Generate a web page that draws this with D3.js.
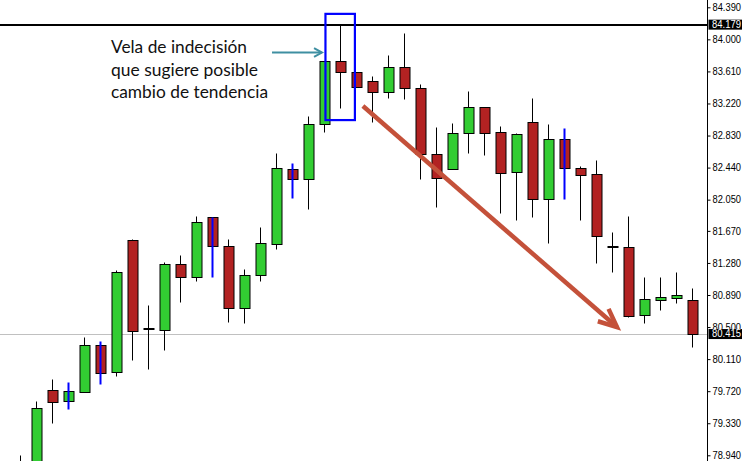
<!DOCTYPE html>
<html><head><meta charset="utf-8">
<script src="https://cdn.jsdelivr.net/npm/d3@7"></script>
<style>html,body{margin:0;padding:0;background:#fff;overflow:hidden}</style>
</head><body><svg id="c" width="742" height="461"></svg>
<script>
// ---- data ----
const candleNo = d3.range(1, 44);
const opens  = [78.85,78.75,79.731,79.606,79.715,80.279,79.959,81.557,80.474,80.470,81.265,81.103,81.837,81.492,80.726,81.139,81.505,82.418,82.296,82.965,83.732,83.598,83.489,83.355,83.659,83.404,82.600,82.418,82.856,83.172,82.868,82.381,82.990,82.052,82.783,82.430,82.360,81.468,81.468,80.652,80.835,80.859,80.827];
const highs  = [78.94,79.597,79.865,79.828,80.376,80.327,81.192,81.573,80.766,81.289,81.374,81.849,81.840,81.569,81.204,81.712,82.612,82.491,83.066,83.735,84.179,83.598,83.550,83.809,84.077,83.452,82.932,82.981,83.374,83.172,82.945,82.859,83.285,82.969,82.924,82.461,82.531,81.654,81.849,81.106,81.106,81.167,80.976];
const lows   = [78.60,78.70,79.333,79.503,79.715,79.808,79.905,80.096,79.987,80.218,80.806,81.061,81.110,80.562,80.550,81.066,81.444,82.072,81.938,82.868,83.167,83.416,82.997,83.289,83.270,82.296,81.955,82.418,82.612,82.592,81.882,81.800,81.841,81.524,82.056,81.800,81.281,81.171,80.623,80.550,80.713,80.794,80.258];
const closes = [78.70,79.520,79.593,79.719,80.279,79.946,81.164,80.458,80.474,81.265,81.110,81.776,81.492,80.726,81.139,81.517,82.430,82.296,82.965,83.732,83.598,83.416,83.355,83.659,83.404,82.600,82.308,82.856,83.172,82.863,82.369,82.844,82.052,82.783,82.430,82.344,81.609,81.468,80.640,80.839,80.863,80.887,80.415];
const blueWick = [4, 6, 13, 18, 35];
const tickLabels = ["84.390","84.000","83.610","83.220","82.830","82.440","82.050","81.670","81.280","80.890","80.500","80.110","79.720","79.330","78.940"];
const markedPrices = ["84.179", "80.415"];
const noteLines = ["Vela de indecisión", "que sugiere posible", "cambio de tendencia"];

// ---- layout ----
const W = 742, H = 461, axisX = 707.5;
const svg = d3.select("#c");
const y = d3.scaleLinear().domain([78.94, 84.39]).range([455.3, 7.3]);
const x = d3.scaleBand().domain(candleNo).range([12.5, 700.5]).paddingInner(0.375).paddingOuter(0.1875);
const xc = d => x(d) + x.bandwidth() / 2;
const xi = d3.scaleLinear().domain([1, 43]).range([xc(1), xc(43)]);
const sy = v => Math.round(y(v)) + 0.5;

const candles = candleNo.map((n, i) => ({n, o: opens[i], h: highs[i], l: lows[i], c: closes[i], blue: blueWick.includes(n)}));

svg.append("defs").append("clipPath").attr("id", "plot").append("rect").attr("x", 0).attr("y", 0).attr("width", axisX).attr("height", H);
const plot = svg.append("g").attr("clip-path", "url(#plot)");

// price lines
plot.append("line").attr("x1", 0).attr("x2", axisX).attr("y1", sy(+markedPrices[1])).attr("y2", sy(+markedPrices[1]))
  .attr("stroke", "#c0c0c0").attr("stroke-width", 1);
plot.append("line").attr("x1", 0).attr("x2", axisX).attr("y1", Math.round(y(+markedPrices[0]))).attr("y2", Math.round(y(+markedPrices[0])))
  .attr("stroke", "#000").attr("stroke-width", 2);

// wicks
plot.selectAll(".wick").data(candles.filter(d => !d.blue)).join("line")
  .attr("x1", d => xc(d.n)).attr("x2", d => xc(d.n))
  .attr("y1", d => sy(d.h)).attr("y2", d => sy(d.l))
  .attr("stroke", "#000").attr("stroke-width", 1);

// bodies
plot.selectAll(".body").data(candles.filter(d => d.o !== d.c)).join("rect")
  .attr("x", d => x(d.n) + 0.5).attr("width", x.bandwidth())
  .attr("y", d => sy(Math.max(d.o, d.c)))
  .attr("height", d => Math.max(1, sy(Math.min(d.o, d.c)) - sy(Math.max(d.o, d.c))))
  .attr("fill", d => d.c > d.o ? "#32cd32" : "#b22222")
  .attr("stroke", "#000").attr("stroke-width", 1);

// doji bars
plot.selectAll(".doji").data(candles.filter(d => d.o === d.c)).join("line")
  .attr("x1", d => x(d.n)).attr("x2", d => x(d.n) + x.bandwidth() + 1)
  .attr("y1", d => Math.round(y(d.o))).attr("y2", d => Math.round(y(d.o)))
  .attr("stroke", "#000").attr("stroke-width", 2);

// blue wicks (on top)
plot.selectAll(".bw").data(candles.filter(d => d.blue)).join("line")
  .attr("x1", d => xc(d.n)).attr("x2", d => xc(d.n))
  .attr("y1", d => sy(d.h)).attr("y2", d => sy(d.l))
  .attr("stroke", "#0000ff").attr("stroke-width", 2);

// annotation: blue box around indecision candle
const boxX0 = xi(20.06), boxX1 = xi(21.9), boxY0 = y(84.31), boxY1 = y(83.018);
svg.append("rect").attr("x", boxX0).attr("y", boxY0).attr("width", boxX1 - boxX0).attr("height", boxY1 - boxY0)
  .attr("fill", "none").attr("stroke", "#0000ff").attr("stroke-width", 2.2);

function arrow(x1, y1, x2, y2, color, w, headLen, headAng) {
  const g = svg.append("g").attr("stroke", color).attr("stroke-width", w).attr("fill", "none").attr("stroke-linecap", "butt");
  g.append("line").attr("x1", x1).attr("y1", y1).attr("x2", x2).attr("y2", y2);
  const a = Math.atan2(y2 - y1, x2 - x1);
  const pts = [a + Math.PI - headAng, a + Math.PI + headAng].map(t => [x2 + headLen * Math.cos(t), y2 + headLen * Math.sin(t)]);
  g.append("path").attr("d", `M${pts[0][0]},${pts[0][1]}L${x2},${y2}L${pts[1][0]},${pts[1][1]}`).attr("stroke-linejoin", "miter");
}
arrow(xi(16.72), y(83.84), xi(19.84), y(83.84), "#3f8fa2", 2, 9, 0.5);
arrow(xi(22.4), y(83.19), xi(38.28), y(80.50), "#c4513a", 4.5, 20, 0.42);

// text note
svg.append("g").selectAll("text").data(noteLines).join("text")
  .attr("x", 111).attr("y", (d, i) => 53 + i * 22.6)
  .attr("font-family", "Lato, 'Open Sans', sans-serif").attr("font-size", 18)
  .attr("fill", "#111")
  .attr("textLength", (d, i) => [136, 147, 157][i]).attr("lengthAdjust", "spacingAndGlyphs")
  .text(d => d);

// ---- axis ----
svg.append("line").attr("x1", axisX).attr("x2", axisX).attr("y1", 0).attr("y2", H).attr("stroke", "#000").attr("stroke-width", 1);
const axis = d3.axisRight(y).tickValues(tickLabels.map(Number)).tickFormat((d, i) => tickLabels[i]).tickSize(3).tickPadding(2);
const ag = svg.append("g").attr("transform", `translate(${axisX},0)`).call(axis);
ag.select(".domain").remove();
ag.selectAll("text").attr("font-family", "'Liberation Sans', Arial, sans-serif").attr("font-size", 10).attr("fill", "#000")
  .attr("textLength", 28.5).attr("lengthAdjust", "spacingAndGlyphs");
ag.selectAll("line").attr("stroke", "#000");

// current-price boxes
const pb = svg.append("g").selectAll("g").data(markedPrices).join("g")
  .attr("transform", d => `translate(${axisX + 1},${y(+d)})`);
pb.append("rect").attr("x", 0).attr("y", -5).attr("width", W - axisX).attr("height", 10).attr("fill", "#000");
pb.append("text").attr("x", 3.5).attr("dy", "0.34em").attr("fill", "#fff")
  .attr("font-family", "'Liberation Sans', Arial, sans-serif").attr("font-size", 10)
  .attr("textLength", 29).attr("lengthAdjust", "spacingAndGlyphs").text(d => d);
</script></body></html>
